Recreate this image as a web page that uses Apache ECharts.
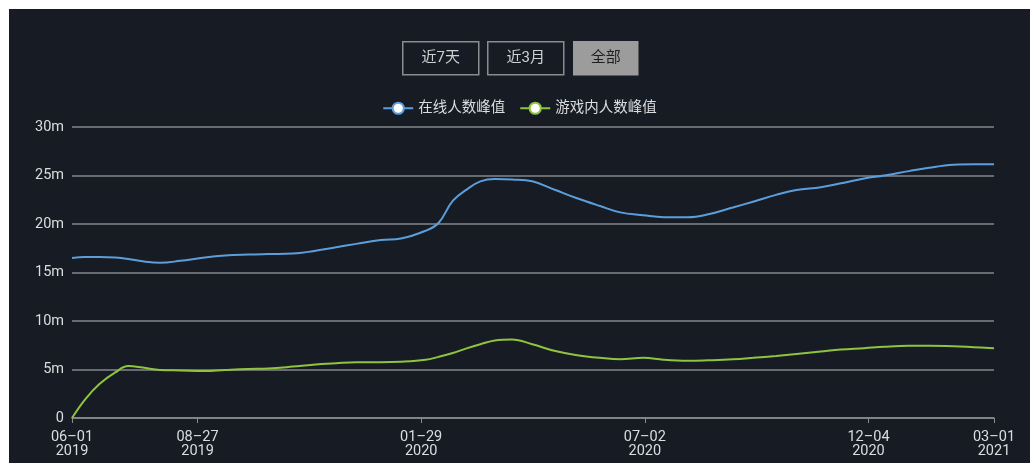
<!DOCTYPE html>
<html>
<head>
<meta charset="utf-8">
<script src="https://cdn.jsdelivr.net/npm/echarts@6/dist/echarts.min.js"></script>
<style>
html,body{margin:0;padding:0;background:#ffffff;width:1030px;height:466px;overflow:hidden;}
#chart{position:absolute;left:9px;top:9px;width:1021px;height:454px;background:#171b23;}
</style>
</head>
<body>
<div id="chart"></div>
<script>
// dates of samples
const dates = [
 '2019-06-01','2019-06-10','2019-06-20','2019-07-01','2019-07-10','2019-07-20','2019-08-01','2019-08-15',
 '2019-09-01','2019-09-15','2019-10-01','2019-10-15','2019-11-01','2019-11-15','2019-12-01','2019-12-15',
 '2020-01-01','2020-01-15','2020-02-01','2020-02-10','2020-02-20','2020-03-01','2020-03-10','2020-03-20',
 '2020-04-01','2020-04-15','2020-05-01','2020-05-15','2020-06-01','2020-06-15','2020-07-01','2020-07-15',
 '2020-08-01','2020-08-15','2020-09-01','2020-09-15','2020-10-01','2020-10-15','2020-11-01','2020-11-15',
 '2020-12-01','2020-12-15','2021-01-01','2021-01-15','2021-02-01','2021-02-15','2021-03-01'
];
// values in millions
const onlinePeak = [
 16.5,16.6,16.6,16.55,16.4,16.15,16.0,16.2,
 16.55,16.75,16.85,16.9,16.95,17.2,17.6,17.95,
 18.35,18.5,19.3,20.1,22.4,23.6,24.4,24.65,
 24.6,24.4,23.5,22.7,21.85,21.2,20.9,20.7,
 20.7,21.0,21.7,22.3,23.0,23.5,23.8,24.2,
 24.7,25.0,25.45,25.8,26.1,26.15,26.15
];
const inGamePeak = [
 0,1.9,3.5,4.7,5.35,5.2,4.95,4.9,
 4.85,4.95,5.05,5.1,5.3,5.5,5.65,5.75,
 5.75,5.8,6.0,6.3,6.7,7.2,7.6,8.0,
 8.1,7.6,6.9,6.5,6.2,6.05,6.2,6.0,
 5.9,5.95,6.05,6.2,6.4,6.6,6.85,7.05,
 7.2,7.35,7.45,7.45,7.4,7.3,7.2
];
const seriesNames = ['在线人数峰值','游戏内人数峰值'];
const tickDates = ['2019-06-01','2019-08-27','2020-01-29','2020-07-02','2020-12-04','2021-03-01'];
const buttonLabels = ['近7天','近3月','全部'];

function ts(s){ const p = s.split('-'); return Date.UTC(+p[0], +p[1]-1, +p[2]); }
function pad(n){ return (n<10?'0':'')+n; }

const chart = echarts.init(document.getElementById('chart'), null, {renderer:'canvas'});
const font = 'Roboto, "Noto Sans CJK SC", sans-serif';

const btnDefs = [
  {x:393, w:76, active:false},
  {x:478, w:76, active:false},
  {x:564, w:64, active:true}
];
const graphics = btnDefs.map((b,i)=>({
  type:'group', left:b.x, top:32,
  children:[
    {type:'rect', shape:{x:0,y:0,width:b.w,height:33},
     style:{fill:b.active?'#9c9c9c':'transparent', stroke:b.active?'#9c9c9c':'#8a8c90', lineWidth:1.5}},
    {type:'text', x:b.w/2, y:16.5,
     style:{text:buttonLabels[i], fill:b.active?'#1e1e1e':'#cfd0d2', font:'15px '+font, align:'center', verticalAlign:'middle'}}
  ]
}));

const lineColors = ['#5c9edc','#8ec43e'];
const tickVals = tickDates.map(ts);

chart.setOption({
  backgroundColor:'#171b23',
  animation:false,
  graphic: graphics,
  legend:{
    top:87, left:'center',
    itemWidth:30, itemHeight:14, itemGap:14,
    textStyle:{color:'#dcdde0', fontSize:14.5, fontFamily:font},
    data:seriesNames
  },
  grid:{left:63, right:36, top:118, bottom:45, containLabel:false},
  xAxis:{
    type:'value',
    min:tickVals[0], max:tickVals[tickVals.length-1],
    axisLine:{lineStyle:{color:'#8a8c90', width:1.5}},
    axisTick:{show:true, length:5, lineStyle:{color:'#8a8c90'}, customValues: tickVals},
    splitLine:{show:false},
    axisLabel:{
      customValues: tickVals,
      color:'#dcdde0', fontSize:14.5, lineHeight:14, margin:12, fontFamily:font,
      showMinLabel:true, showMaxLabel:true, hideOverlap:false,
      formatter:function(v){ const d=new Date(v); return pad(d.getUTCMonth()+1)+'–'+pad(d.getUTCDate())+'\n'+d.getUTCFullYear(); }
    }
  },
  yAxis:{
    type:'value', min:0, max:30, interval:5,
    axisLine:{show:false}, axisTick:{show:false},
    splitLine:{lineStyle:{color:'#85878b', width:1.5}},
    axisLabel:{color:'#dcdde0', fontSize:14.5, margin:8, fontFamily:font,
      formatter:function(v){ return v===0?'0':v+'m'; }}
  },
  series:[0,1].map(i=>({
    name:seriesNames[i],
    type:'line',
    smooth:0.4,
    showSymbol:false,
    symbol:'circle', symbolSize:12,
    itemStyle:{color:'#ffffff', borderColor:lineColors[i], borderWidth:1.5, shadowBlur:6, shadowColor:lineColors[i]},
    lineStyle:{color:lineColors[i], width:2},
    data: dates.map((d,k)=>[ts(d), (i===0?onlinePeak:inGamePeak)[k]])
  }))
});
</script>
</body>
</html>
